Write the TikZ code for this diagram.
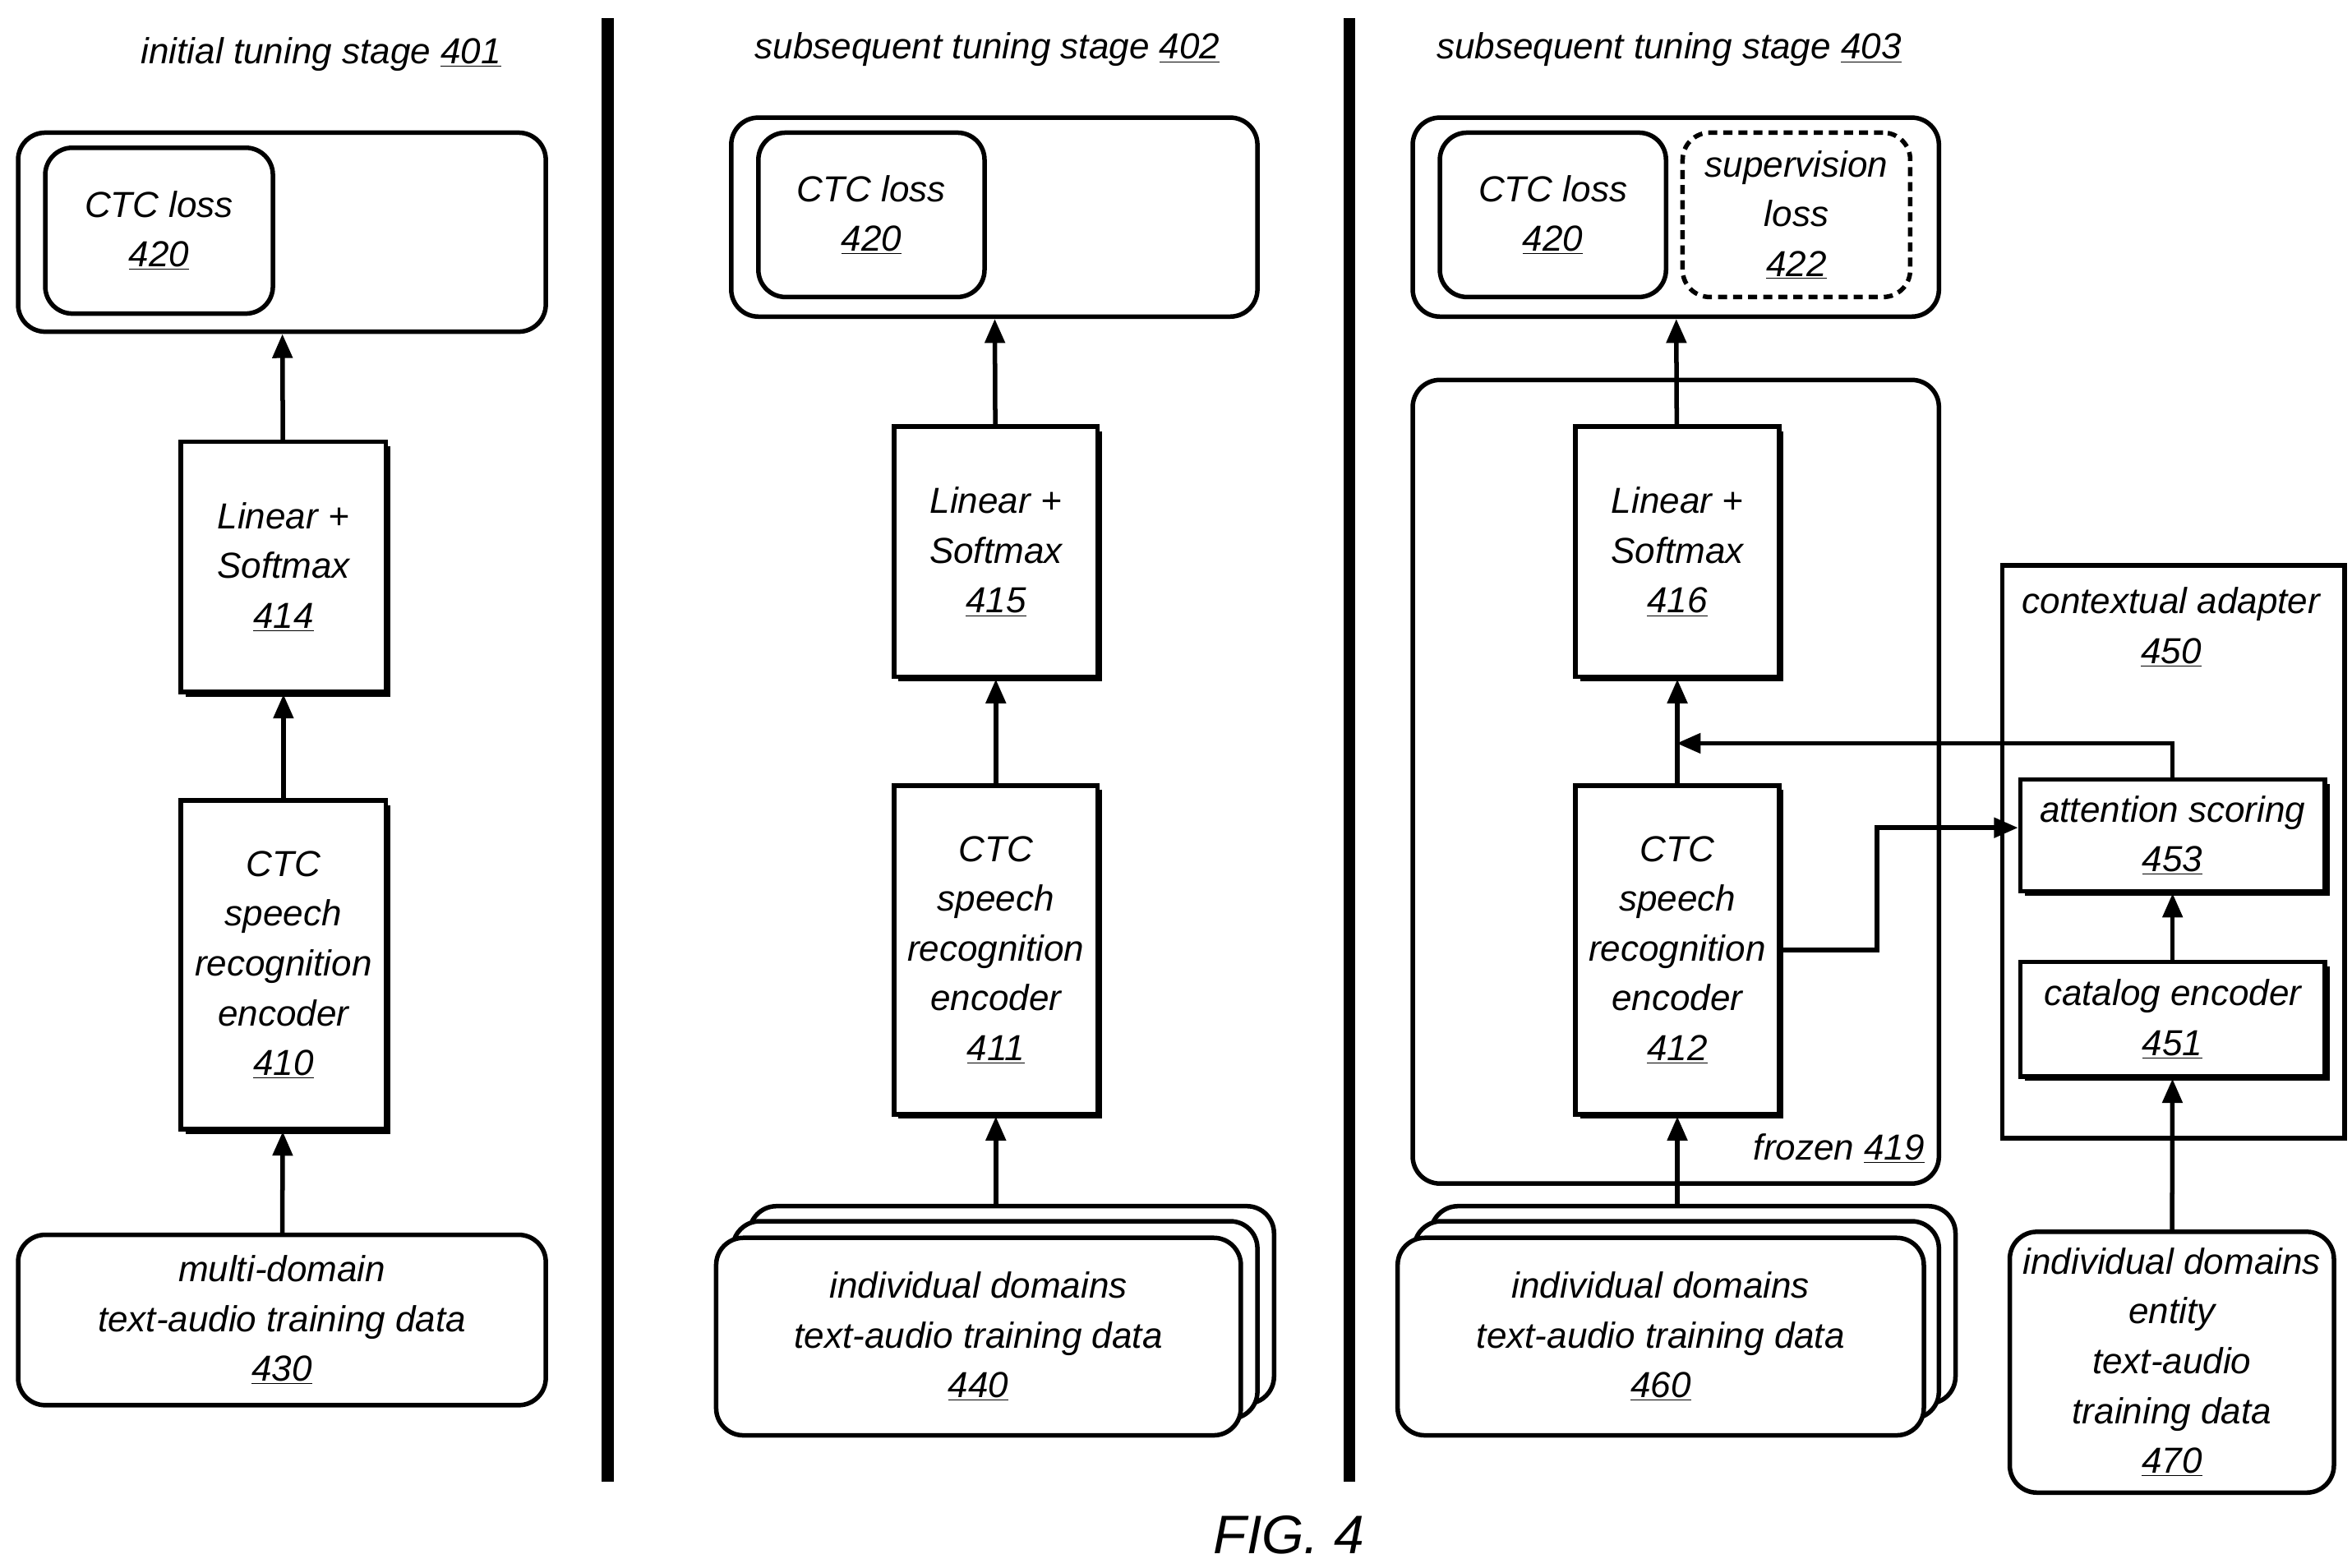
\documentclass[tikz,border=0pt]{standalone}
\usepackage{fontspec}
\setmainfont{Liberation Sans}
\usetikzlibrary{shadows,arrows.meta}
\begin{document}
\begin{tikzpicture}[x=1pt,y=-1pt,
  lw/.style={line width=3pt},
  rbox/.style={lw,draw,rounded corners=18pt,fill=white,inner sep=0pt},
  sbox/.style={lw,draw,fill=white,inner sep=0pt,general shadow={shadow xshift=3pt,shadow yshift=-3pt,fill=black}},
  txt/.style={font=\fontsize{24}{33}\selectfont\itshape,align=center},
  arr/.style={lw,-{Triangle[length=16pt,width=13pt]}},
  bar/.style={line width=8pt}]
\newcommand{\bx}[6]{\node[#1,minimum width={#4-#2},minimum height={#5-#3}] (#6) at ({(#2+#4)/2},{(#3+#5)/2}) {};}
\useasboundingbox (0,0) rectangle (1560,1040);
\draw[bar] (403,12) -- (403,983);
\draw[bar] (895,12) -- (895,983);
% stage 1
\node[txt] (t1) at (213,36) {initial tuning stage \underline{401}};
\bx{rbox}{12}{88}{362}{220}{o1}
\bx{rbox}{30}{98}{181}{208}{c1}
\node[txt] at (c1) {CTC loss\\\underline{420}};
\bx{sbox}{120}{293}{256}{459}{l1}
\node[txt] at (l1) {Linear +\\Softmax\\\underline{414}};
\bx{sbox}{120}{531}{256}{749}{e1}
\node[txt] at (e1) {CTC\\speech\\recognition\\encoder\\\underline{410}};
\bx{rbox}{12}{819}{362}{932}{d1}
\node[txt] at (d1) {multi-domain\\text-audio training data\\\underline{430}};
\draw[arr] (d1) -- (e1);
\draw[arr] (e1) -- (l1);
\draw[arr] (l1) -- (o1);
% stage 2
\node[txt] (t2) at (655,33) {subsequent tuning stage \underline{402}};
\bx{rbox}{485}{78}{834}{210}{o2}
\bx{rbox}{503}{88}{653}{197}{c2}
\node[txt] at (c2) {CTC loss\\\underline{420}};
\bx{sbox}{593}{283}{728}{449}{l2}
\node[txt] at (l2) {Linear +\\Softmax\\\underline{415}};
\bx{sbox}{593}{521}{728}{739}{e2}
\node[txt] at (e2) {CTC\\speech\\recognition\\encoder\\\underline{411}};
\bx{rbox}{497}{800}{845}{931}{d2c}
\bx{rbox}{486}{810}{834}{941}{d2b}
\bx{rbox}{475}{821}{823}{952}{d2}
\node[txt] at (d2) {individual domains\\text-audio training data\\\underline{440}};
\draw[arr] (d2c.north -| e2) -- (e2);
\draw[arr] (e2) -- (l2);
\draw[arr] (l2) -- (o2);
% stage 3
\node[txt] (t3) at (1107,33) {subsequent tuning stage \underline{403}};
\bx{rbox}{937}{78}{1286}{210}{o3}
\bx{rbox}{955}{88}{1105}{197}{c3}
\node[txt] at (c3) {CTC loss\\\underline{420}};
\bx{rbox,dash pattern=on 6pt off 4pt}{1116}{88}{1267}{197}{s3}
\node[txt] at (s3) {supervision\\loss\\\underline{422}};
\bx{rbox}{937}{252}{1286}{785}{f3}
\node[txt,anchor=south east] (fl) at (1280,775) {frozen \underline{419}};
\bx{sbox}{1045}{283}{1180}{449}{l3}
\node[txt] at (l3) {Linear +\\Softmax\\\underline{416}};
\bx{sbox}{1045}{521}{1180}{739}{e3}
\node[txt] at (e3) {CTC\\speech\\recognition\\encoder\\\underline{412}};
\bx{rbox}{949}{800}{1297}{931}{d3c}
\bx{rbox}{938}{810}{1286}{941}{d3b}
\bx{rbox}{927}{821}{1276}{952}{d3}
\node[txt] at (d3) {individual domains\\text-audio training data\\\underline{460}};
\bx{lw,draw,inner sep=0pt}{1328}{375}{1555}{755}{ca}
\node[txt] at (1440,416) {contextual adapter\\\underline{450}};
\bx{sbox}{1340}{517}{1542}{591}{at}
\node[txt] at (at) {attention scoring\\\underline{453}};
\bx{sbox}{1340}{638}{1542}{714}{ce}
\node[txt] at (ce) {catalog encoder\\\underline{451}};
\bx{rbox}{1333}{817}{1548}{990}{d4}
\node[txt] at (d4) {individual domains\\entity\\text-audio\\training data\\\underline{470}};
\coordinate (j1) at (1112,493);
\coordinate (k1) at (1245,630);
\coordinate (k2) at (1245,549);
\draw[arr] (d3c.north -| e3) -- (e3);
\draw[arr] (e3) -- (l3);
\draw[arr] (l3) -- (o3);
\draw[arr] (d4) -- (ce);
\draw[arr] (ce) -- (at);
\draw[arr] (e3.east |- k1) -- (k1) -- (k2) -- (at.west |- k2);
\draw[arr] (at.north) |- (j1);
\node[font=\fontsize{36}{40}\selectfont\itshape] (fig) at (855,1018) {FIG. 4};
\end{tikzpicture}
\end{document}
